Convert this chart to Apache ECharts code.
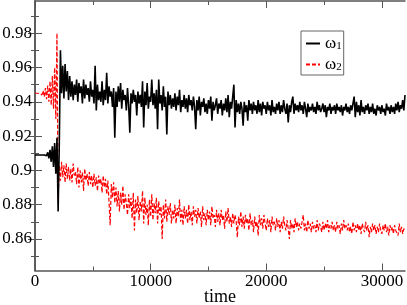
<!DOCTYPE html>
<html>
<head>
<meta charset="utf-8">
<script src="https://cdn.jsdelivr.net/npm/echarts@6/dist/echarts.min.js"></script>
<style>html,body{margin:0;padding:0;background:#fff}#c{width:407px;height:305px}</style>
</head>
<body>
<div id="c"></div>
<script>
// sampling step of the time axis (one value every 100 time units, 0..32000)
const timeStep = 100;

// omega_1 (black, solid)
const w1 = [
0.909,0.909,0.909,0.909,0.909,0.909,0.909,0.909,0.909,0.9095,
0.9085,0.9105,0.907,0.912,0.905,0.914,0.902,0.916,0.898,0.919,
0.876,0.915,0.970,0.945,0.961,0.942,0.962,0.946,0.958,0.941,
0.955,0.943,0.952,0.941,0.950,0.944,0.953,0.940,0.951,0.945,
0.949,0.939,0.953,0.942,0.950,0.944,0.948,0.940,0.952,0.943,
0.947,0.939,0.961,0.935,0.950,0.941,0.946,0.940,0.952,0.938,
0.947,0.941,0.957,0.939,0.949,0.943,0.946,0.937,0.948,0.919,
0.946,0.937,0.949,0.940,0.951,0.936,0.947,0.941,0.944,0.935,
0.948,0.938,0.922,0.945,0.939,0.947,0.940,0.944,0.932,0.946,
0.939,0.944,0.937,0.952,0.925,0.946,0.938,0.951,0.936,0.943,
0.940,0.953,0.938,0.945,0.936,0.947,0.924,0.953,0.939,0.944,
0.935,0.949,0.937,0.943,0.921,0.946,0.938,0.944,0.936,0.942,
0.937,0.945,0.935,0.943,0.938,0.947,0.934,0.941,0.937,0.944,
0.936,0.942,0.934,0.944,0.938,0.941,0.935,0.943,0.937,0.924,
0.941,0.935,0.943,0.932,0.940,0.937,0.942,0.934,0.939,0.933,
0.941,0.936,0.943,0.929,0.940,0.935,0.938,0.942,0.933,0.939,
0.936,0.941,0.932,0.939,0.935,0.942,0.934,0.944,0.931,0.940,
0.936,0.943,0.950,0.925,0.941,0.934,0.939,0.933,0.940,0.936,
0.926,0.940,0.934,0.938,0.929,0.941,0.935,0.939,0.933,0.940,
0.935,0.938,0.933,0.941,0.934,0.939,0.932,0.940,0.936,0.938,
0.933,0.940,0.935,0.938,0.932,0.941,0.934,0.937,0.933,0.939,
0.935,0.940,0.933,0.938,0.934,0.941,0.936,0.933,0.939,0.928,
0.938,0.934,0.940,0.943,0.933,0.939,0.935,0.938,0.934,0.940,
0.935,0.938,0.933,0.940,0.936,0.931,0.939,0.934,0.937,0.935,
0.939,0.934,0.937,0.933,0.940,0.935,0.938,0.934,0.936,0.939,
0.934,0.938,0.931,0.937,0.935,0.939,0.933,0.937,0.935,0.938,
0.933,0.939,0.935,0.937,0.934,0.938,0.932,0.937,0.935,0.939,
0.934,0.937,0.933,0.938,0.935,0.936,0.943,0.931,0.940,0.934,
0.938,0.932,0.941,0.934,0.937,0.933,0.938,0.935,0.939,0.933,
0.937,0.934,0.939,0.933,0.936,0.932,0.938,0.935,0.937,0.933,
0.938,0.934,0.936,0.932,0.939,0.935,0.937,0.933,0.938,0.934,
0.937,0.933,0.939,0.935,0.940,0.934,0.938,0.936,0.941,0.935,
0.944
];

// omega_2 (red, dashed)
const w2 = [
0.945,0.945,0.945,0.945,0.9448,0.9455,0.944,0.9465,0.943,0.948,
0.9415,0.9495,0.940,0.952,0.938,0.955,0.936,0.960,0.930,0.980,
0.882,0.903,0.894,0.905,0.896,0.903,0.893,0.904,0.895,0.902,
0.894,0.901,0.893,0.904,0.897,0.899,0.892,0.902,0.890,0.900,
0.893,0.899,0.888,0.901,0.894,0.898,0.891,0.899,0.892,0.897,
0.890,0.898,0.891,0.896,0.888,0.897,0.892,0.895,0.887,0.897,
0.890,0.895,0.886,0.894,0.882,0.868,0.892,0.884,0.893,0.881,
0.890,0.879,0.888,0.876,0.887,0.880,0.891,0.877,0.886,0.881,
0.874,0.886,0.878,0.884,0.872,0.887,0.865,0.883,0.875,0.885,
0.871,0.882,0.876,0.888,0.869,0.884,0.874,0.880,0.868,0.883,
0.873,0.886,0.871,0.881,0.875,0.884,0.869,0.882,0.874,0.879,
0.860,0.880,0.872,0.883,0.870,0.879,0.874,0.881,0.869,0.877,
0.872,0.880,0.869,0.878,0.873,0.883,0.870,0.877,0.868,0.879,
0.872,0.877,0.869,0.880,0.871,0.876,0.868,0.879,0.873,0.877,
0.869,0.878,0.872,0.876,0.867,0.879,0.871,0.875,0.868,0.877,
0.871,0.876,0.868,0.879,0.872,0.874,0.867,0.877,0.870,0.875,
0.868,0.877,0.871,0.874,0.866,0.876,0.870,0.878,0.869,0.873,
0.867,0.875,0.869,0.874,0.870,0.861,0.873,0.868,0.876,0.867,
0.873,0.866,0.874,0.869,0.872,0.865,0.875,0.868,0.871,0.864,
0.873,0.867,0.870,0.862,0.874,0.868,0.872,0.866,0.874,0.869,
0.865,0.872,0.867,0.871,0.864,0.873,0.868,0.870,0.865,0.872,
0.867,0.871,0.864,0.870,0.866,0.873,0.868,0.865,0.871,0.866,
0.860,0.871,0.866,0.869,0.864,0.872,0.867,0.870,0.865,0.869,
0.866,0.870,0.874,0.865,0.869,0.864,0.871,0.866,0.869,0.864,
0.870,0.866,0.868,0.864,0.871,0.865,0.869,0.867,0.864,0.870,
0.865,0.869,0.866,0.871,0.864,0.868,0.866,0.870,0.865,0.868,
0.864,0.870,0.866,0.868,0.863,0.869,0.865,0.871,0.866,0.868,
0.865,0.869,0.864,0.867,0.863,0.870,0.865,0.868,0.864,0.869,
0.865,0.868,0.863,0.869,0.866,0.864,0.870,0.865,0.868,0.861,
0.867,0.864,0.869,0.865,0.868,0.863,0.867,0.864,0.869,0.865,
0.863,0.868,0.865,0.869,0.864,0.867,0.862,0.868,0.865,0.867,
0.863,0.868,0.865,0.866,0.862,0.869,0.864,0.867,0.863,0.866,
0.865
];

const seriesNames = ['ω1', 'ω2'];
const xMajorTicks = [0, 10000, 20000, 30000];
const xMinorTicks = [5000, 15000, 25000];
const yMajorTicks = [0.86, 0.88, 0.90, 0.92, 0.94, 0.96, 0.98];
const yMinorTicks = [0.85, 0.87, 0.89, 0.91, 0.93, 0.95, 0.97, 0.99];
const xRange = [0, 32000];
const xLabelStep = 10000;
const yRange = [0.8416, 0.9988];
// label axis: same scale, extended to round limits
const yLabelRange = [0.84, 1.0];
const yLabelStep = 0.02;

const FONT = 'Liberation Serif';
const AXC = '#555';

// plot frame in px
const G = {left: 35, right: 2, top: 1, bottom: 34.5};
const plotH = 305 - G.top - G.bottom;
const pxPerUnit = plotH / (yRange[1] - yRange[0]);
const G2 = {
  left: G.left, right: G.right,
  top: G.top - (yLabelRange[1] - yRange[1]) * pxPerUnit,
  bottom: G.bottom - (yRange[0] - yLabelRange[0]) * pxPerUnit
};

function tickAx(kind, pos, ticks, len, showLine) {
  const r = kind === 'x' ? xRange : yRange;
  return {
    type: 'value', position: pos, min: r[0], max: r[1], gridIndex: 0,
    axisLine: {show: showLine, lineStyle: {color: AXC, width: 1.5}},
    axisTick: {show: true, inside: true, length: len, customValues: ticks, lineStyle: {color: AXC, width: 1}},
    axisLabel: {show: false},
    splitLine: {show: false}
  };
}

const xAxes = [
  {
    type: 'value', position: 'bottom', min: xRange[0], max: xRange[1], interval: xLabelStep, gridIndex: 0,
    axisLine: {show: true, lineStyle: {color: AXC, width: 1.5}},
    axisTick: {show: true, inside: true, length: 7, customValues: xMajorTicks, lineStyle: {color: AXC, width: 1}},
    axisLabel: {show: true, margin: 3, color: '#000', fontFamily: FONT, fontSize: 17, showMaxLabel: false,
      formatter: v => String(v)},
    splitLine: {show: false},
    name: 'time', nameLocation: 'middle', nameGap: 17.5, nameMoveOverlap: false,
    nameTextStyle: {color: '#000', fontFamily: FONT, fontSize: 18}
  },
  tickAx('x', 'bottom', xMinorTicks, 4, false),
  tickAx('x', 'top', xMajorTicks, 7, true),
  tickAx('x', 'top', xMinorTicks, 4, false),
  {type: 'value', gridIndex: 1, show: false, min: xRange[0], max: xRange[1]}
];

const yAxes = [
  tickAx('y', 'left', yMajorTicks, 7, true),
  tickAx('y', 'left', yMinorTicks, 4, false),
  tickAx('y', 'right', yMajorTicks, 7, true),
  tickAx('y', 'right', yMinorTicks, 4, false),
  {
    type: 'value', gridIndex: 1, position: 'left', min: yLabelRange[0], max: yLabelRange[1], interval: yLabelStep,
    axisLine: {show: false}, axisTick: {show: false}, splitLine: {show: false},
    axisLabel: {show: true, margin: 3, color: '#000', fontFamily: FONT, fontSize: 17,
      showMinLabel: false, showMaxLabel: false, formatter: v => String(+v.toFixed(2))}
  }
];

const chart = echarts.init(document.getElementById('c'), null, {renderer: 'canvas'});
chart.setOption({
  animation: false,
  backgroundColor: '#fff',
  textStyle: {fontFamily: FONT},
  grid: [
    {left: G.left, right: G.right, top: G.top, bottom: G.bottom, containLabel: false, outerBoundsMode: 'none'},
    {left: G2.left, right: G2.right, top: G2.top, bottom: G2.bottom, containLabel: false, outerBoundsMode: 'none'}
  ],
  xAxis: xAxes,
  yAxis: yAxes,
  legend: {
    orient: 'vertical', left: 301, top: 31, itemWidth: 14, itemHeight: 10, itemGap: 3,
    padding: [3, 2, 2, 4], borderColor: '#666', borderWidth: 1, backgroundColor: '#fff',
    data: seriesNames,
    itemStyle: {opacity: 0},
    formatter: n => '{w|ω}{s|' + n.slice(1) + '}',
    textStyle: {
      color: '#000', fontFamily: FONT,
      rich: {
        w: {fontSize: 17, fontFamily: FONT, lineHeight: 17, verticalAlign: 'bottom'},
        s: {fontSize: 11, fontFamily: FONT, lineHeight: 17, verticalAlign: 'bottom', padding: [7, 0, 0, 0]}
      }
    }
  },
  series: [
    {name: seriesNames[0], type: 'line', xAxisIndex: 0, yAxisIndex: 0, showSymbol: false, symbol: 'none',
     lineStyle: {color: '#000', width: 1.6}, itemStyle: {color: '#000'},
     data: w1.map((v, i) => [i * timeStep, v]), z: 3},
    {name: seriesNames[1], type: 'line', xAxisIndex: 0, yAxisIndex: 0, showSymbol: false, symbol: 'none',
     lineStyle: {color: '#ff0000', width: 1.2, type: [4, 2]}, itemStyle: {color: '#ff0000'},
     data: w2.map((v, i) => [i * timeStep, v]), z: 2}
  ]
});
</script>
</body>
</html>
